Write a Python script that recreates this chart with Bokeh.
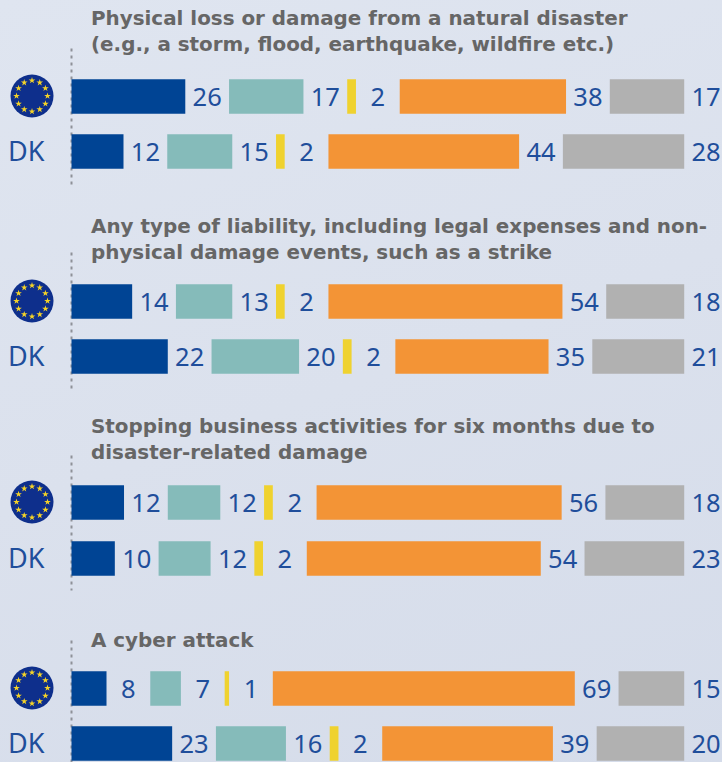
import math
from bokeh.plotting import figure
from bokeh.models import Range1d, InlineStyleSheet
from bokeh.core.properties import value
from bokeh.embed import file_html
from bokeh.resources import INLINE

titles = [
    ["Physical loss or damage from a natural disaster", "(e.g., a storm, flood, earthquake, wildfire etc.)"],
    ["Any type of liability, including legal expenses and non-", "physical damage events, such as a strike"],
    ["Stopping business activities for six months due to", "disaster-related damage"],
    ["A cyber attack"],
]
eu_values = [
    [26, 17, 2, 38, 17],
    [14, 13, 2, 54, 18],
    [12, 12, 2, 56, 18],
    [8, 7, 1, 69, 15],
]
dk_values = [
    [12, 15, 2, 44, 28],
    [22, 20, 2, 35, 21],
    [10, 12, 2, 54, 23],
    [23, 16, 2, 39, 20],
]
dk_label = "DK"
colors = ["#004494", "#85bbba", "#efd22f", "#f39436", "#b1b1b1"]

W, H = 722, 762
GAP = 10
X0, X1 = 71, 683.7
PX = (X1 - X0) / (100 + 4 * GAP)
eu_centers = [96, 301, 502, 688]
dk_centers = [151, 356, 558, 743]
title_y = [[17.5, 43.5], [225.5, 251.5], [426, 451.5], [639.5]]
rule_spans = [(48, 184), (252, 388), (455, 590), (640, 762)]
BAR_H = 34.5
BLUE = "#1f4e9b"
FONT = value("Noto Sans")

p = figure(width=W, height=H, output_backend="svg", toolbar_location=None,
           x_range=Range1d(-X0 / PX, (W - X0) / PX), y_range=Range1d(H, 0),
           min_border=0, outline_line_color=None, margin=(0, 0, 0, 0))
p.extra_x_ranges = {"px": Range1d(0, W)}
p.axis.visible = False
p.grid.visible = False
p.background_fill_alpha = 0
p.border_fill_alpha = 0
p.stylesheets = [InlineStyleSheet(css=":host{position:fixed !important;left:0;top:0;background:linear-gradient(160deg,#dfe5f0 0%,#dbe1ed 50%,#d5dcea 100%);}")]

for y0, y1 in rule_spans:
    p.segment(x0=[71], x1=[71], y0=[y0], y1=[y1], line_color="#8e9198",
              line_width=2, line_dash="3 4", x_range_name="px")

for rows, centers in ((eu_values, eu_centers), (dk_values, dk_centers)):
    for vals, cy in zip(rows, centers):
        total = sum(vals)
        start = 0.0
        for v, c in zip(vals, colors):
            w = v / total * 100
            p.quad(left=[start], right=[start + w], top=[cy - BAR_H / 2], bottom=[cy + BAR_H / 2],
                   fill_color=c, line_color=None)
            p.text(x=[start + w + GAP / 2], y=[cy + 0.5], text=[str(v)], text_color=BLUE,
                   text_font=FONT, text_font_size="25.5px", text_align="center", text_baseline="middle")
            start += w + GAP

for lines, ys in zip(titles, title_y):
    for line, y in zip(lines, ys):
        p.text(x=[90.5], y=[y], text=[line], x_range_name="px", text_color="#666666",
               text_font=value("DejaVu Sans"), text_font_style="bold", text_font_size="19.9px",
               text_align="left", text_baseline="alphabetic")

STAR_R = 15.5
for cy in eu_centers:
    p.scatter(x=[31.5], y=[cy - 0.5], size=43, marker="circle", fill_color="#0e2f8c", line_color=None, x_range_name="px")
    xs = [31.5 + STAR_R * math.cos(math.radians(30 * i)) for i in range(12)]
    ys = [cy - 0.5 + STAR_R * math.sin(math.radians(30 * i)) for i in range(12)]
    p.scatter(x=xs, y=ys, size=7, marker="star", fill_color="#f5d327", line_color=None, x_range_name="px")

for cy in dk_centers:
    p.text(x=[7.5], y=[cy - 1], text=[dk_label], x_range_name="px", text_color=BLUE,
           text_font=FONT, text_font_size="27px", text_align="left", text_baseline="middle")

open("out.html", "w").write(file_html(p, INLINE))
